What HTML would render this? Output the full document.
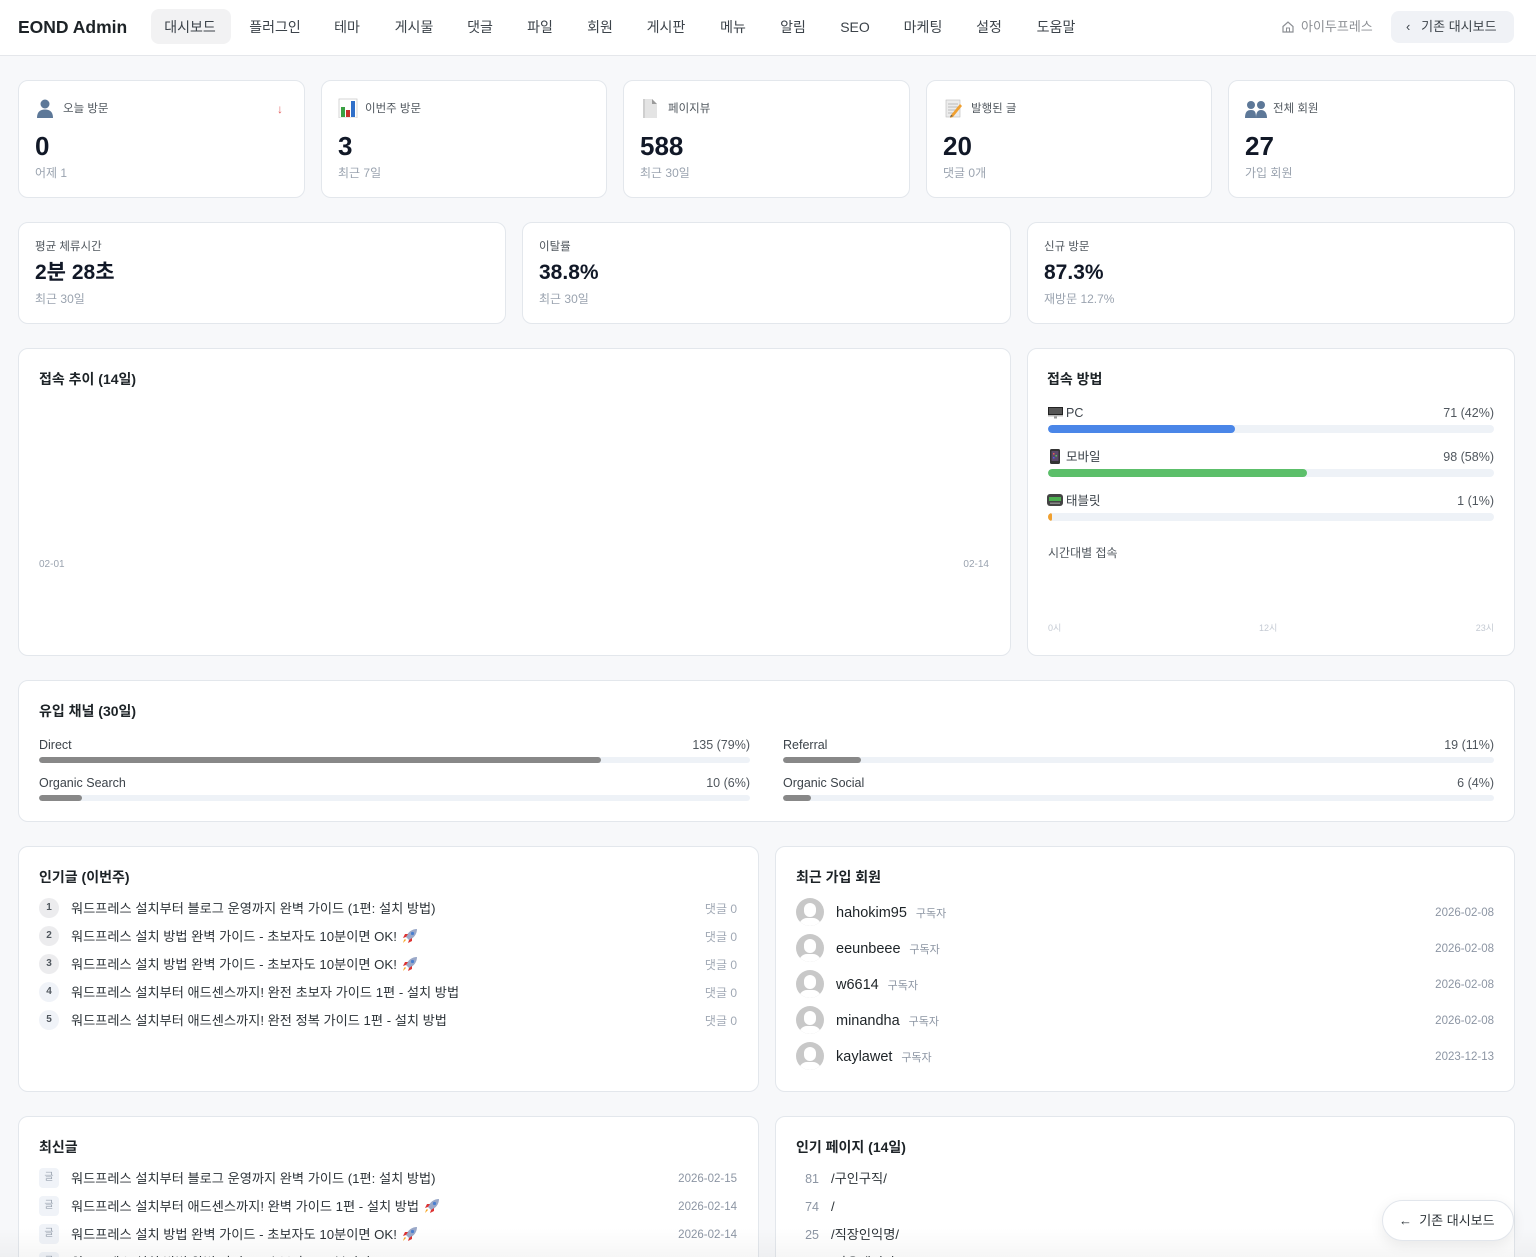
<!DOCTYPE html>
<html><head><meta charset="utf-8">
<style>
*{margin:0;padding:0;box-sizing:border-box}
html,body{width:1536px;height:1257px;overflow:hidden}
body{position:relative;background:#f7f8fa;font-family:"Liberation Sans","Noto Sans CJK KR",sans-serif;color:#1d2327}
.a{position:absolute;white-space:nowrap}
.card{position:absolute;background:#fff;border:1px solid #e3e7ec;border-radius:10px}
.hdr{position:absolute;left:0;top:0;width:1536px;height:56px;background:#fff;border-bottom:1px solid #e5e7eb}
.nav{position:absolute;top:17px;line-height:20px;font-size:14px;color:#3c434a;transform:translateX(-50%)}
.lbl{font-size:11.5px;color:#50575e;line-height:20px}
.sub{font-size:12px;color:#9aa3af;line-height:20px}
.v1{font-size:26px;font-weight:bold;color:#111827;line-height:30px}
.v2{font-size:21px;font-weight:bold;color:#111827;line-height:26px}
.ttl{font-size:14px;font-weight:bold;color:#1d2327;line-height:20px}
.trk{position:absolute;background:#eef2f7;border-radius:4px;overflow:hidden}
.fil{position:absolute;left:0;top:0;bottom:0;border-radius:4px}
.row{font-size:13.2px;color:#2c3338;line-height:20px}
.num{position:absolute;width:20px;height:20px;border-radius:10px;font-size:10px;font-weight:bold;text-align:center;line-height:20px;color:#50575e}
.mut{font-size:12px;color:#a0a8b4;line-height:20px}
.dt{font-size:11.5px;color:#8c95a3;line-height:20px}
.av{position:absolute;width:28px;height:28px;border-radius:14px;background:#c8c8c8;overflow:hidden}
.av:before{content:"";position:absolute;left:8px;top:5px;width:12px;height:14px;border-radius:6px;background:#fff}
.av:after{content:"";position:absolute;left:3px;top:20px;width:22px;height:16px;border-radius:11px;background:#fff}
.gl{position:absolute;width:20px;height:20px;border-radius:4px;background:#f0f3f8;font-size:10px;color:#9aa3af;text-align:center;line-height:20px}
.cv{font-size:12.5px;color:#50575e;line-height:20px}
.cl{font-size:12.5px;color:#3c434a;line-height:20px}
</style></head><body>

<!-- header -->
<div class="hdr"></div>
<div class="a" style="left:18px;top:15px;font-size:17.5px;font-weight:bold;line-height:24px;color:#1d2327">EOND Admin</div>
<div class="a" style="left:151px;top:9px;width:80px;height:35px;background:#f2f2f3;border-radius:8px"></div>
<span class="nav" style="left:190px">대시보드</span>
<span class="nav" style="left:275px">플러그인</span>
<span class="nav" style="left:347px">테마</span>
<span class="nav" style="left:414px">게시물</span>
<span class="nav" style="left:480px">댓글</span>
<span class="nav" style="left:540px">파일</span>
<span class="nav" style="left:600px">회원</span>
<span class="nav" style="left:666px">게시판</span>
<span class="nav" style="left:733px">메뉴</span>
<span class="nav" style="left:793px">알림</span>
<span class="nav" style="left:855px">SEO</span>
<span class="nav" style="left:923px">마케팅</span>
<span class="nav" style="left:989px">설정</span>
<span class="nav" style="left:1056px">도움말</span>
<svg class="a" style="left:1281px;top:20px" width="14" height="14" viewBox="0 0 14 14"><path d="M2 6.5L7 2l5 4.5V12H2z" fill="none" stroke="#8c8f94" stroke-width="1.2"/><rect x="5.5" y="8" width="3" height="4" fill="none" stroke="#8c8f94" stroke-width="1"/></svg>
<div class="a" style="left:1301px;top:17px;font-size:13px;color:#8c8f94;line-height:20px">아이두프레스</div>
<div class="a" style="left:1391px;top:11px;width:123px;height:32px;background:#f0f2f6;border-radius:8px"></div>
<div class="a" style="left:1406px;top:17px;font-size:13px;color:#3c434a;line-height:20px">‹&nbsp;&nbsp;&nbsp;기존 대시보드</div>

<!-- row 1 stat cards -->
<div class="card" style="left:18px;top:80px;width:287px;height:118px"></div>
<div class="card" style="left:321px;top:80px;width:286px;height:118px"></div>
<div class="card" style="left:623px;top:80px;width:287px;height:118px"></div>
<div class="card" style="left:926px;top:80px;width:286px;height:118px"></div>
<div class="card" style="left:1228px;top:80px;width:287px;height:118px"></div>

<!-- icons -->
<svg class="a" style="left:35px;top:98px" width="20" height="20" viewBox="0 0 20 20"><circle cx="10" cy="6" r="4.5" fill="#5d7898"/><path d="M2 20c0-6 3-8.5 8-8.5s8 2.5 8 8.5z" fill="#5d7898"/></svg>
<svg class="a" style="left:338px;top:98px" width="20" height="20" viewBox="0 0 20 20"><rect x="1" y="1" width="18" height="19" fill="#fff" stroke="#ccc" stroke-width=".8"/><rect x="3" y="9" width="4" height="10" fill="#3aa043"/><rect x="8" y="12" width="4" height="7" fill="#c9302c"/><rect x="13" y="3" width="4" height="16" fill="#2f6fc9"/></svg>
<svg class="a" style="left:641px;top:98px" width="18" height="20" viewBox="0 0 18 20"><path d="M2 1h9l5 5v14H2z" fill="#e4e4e4"/><path d="M11 1v5h5z" fill="#9a9a9a"/><path d="M2 1h2v19H2z" fill="#cfcfcf"/></svg>
<svg class="a" style="left:944px;top:98px" width="20" height="20" viewBox="0 0 20 20"><rect x="2" y="2" width="14" height="17" fill="#ececec" stroke="#bbb" stroke-width=".6"/><path d="M4 6h10M4 9h10M4 12h8M4 15h6" stroke="#aaa" stroke-width=".8"/><path d="M7 17l9-11 2 2-9 11-3 1z" fill="#f0a030"/><path d="M7 17l-1 2 3-1z" fill="#555"/></svg>
<svg class="a" style="left:1245px;top:98px" width="22" height="20" viewBox="0 0 22 20"><circle cx="6" cy="7" r="4" fill="#5d7898"/><circle cx="16" cy="7" r="4" fill="#5d7898"/><path d="M0 20c0-6 2-8 6-8s5 2 5 8z" fill="#5d7898"/><path d="M11 20c0-6 2-8 5-8s6 2 6 8z" fill="#5d7898"/></svg>

<div class="a lbl" style="left:63px;top:99px">오늘 방문</div>
<div class="a" style="left:277px;top:99px;font-size:12px;color:#e26060;line-height:20px">↓</div>
<div class="a v1" style="left:35px;top:131px">0</div>
<div class="a sub" style="left:35px;top:163px">어제 1</div>

<div class="a lbl" style="left:365px;top:99px">이번주 방문</div>
<div class="a v1" style="left:338px;top:131px">3</div>
<div class="a sub" style="left:338px;top:163px">최근 7일</div>

<div class="a lbl" style="left:668px;top:99px">페이지뷰</div>
<div class="a v1" style="left:640px;top:131px">588</div>
<div class="a sub" style="left:640px;top:163px">최근 30일</div>

<div class="a lbl" style="left:971px;top:99px">발행된 글</div>
<div class="a v1" style="left:943px;top:131px">20</div>
<div class="a sub" style="left:943px;top:163px">댓글 0개</div>

<div class="a lbl" style="left:1273px;top:99px">전체 회원</div>
<div class="a v1" style="left:1245px;top:131px">27</div>
<div class="a sub" style="left:1245px;top:163px">가입 회원</div>

<!-- row 2 -->
<div class="card" style="left:18px;top:222px;width:488px;height:102px"></div>
<div class="card" style="left:522px;top:222px;width:489px;height:102px"></div>
<div class="card" style="left:1027px;top:222px;width:488px;height:102px"></div>
<div class="a lbl" style="left:35px;top:237px">평균 체류시간</div>
<div class="a v2" style="left:35px;top:260px">2분 28초</div>
<div class="a sub" style="left:35px;top:289px">최근 30일</div>
<div class="a lbl" style="left:539px;top:237px">이탈률</div>
<div class="a v2" style="left:539px;top:260px">38.8%</div>
<div class="a sub" style="left:539px;top:289px">최근 30일</div>
<div class="a lbl" style="left:1044px;top:237px">신규 방문</div>
<div class="a v2" style="left:1044px;top:260px">87.3%</div>
<div class="a sub" style="left:1044px;top:289px">재방문 12.7%</div>

<!-- row 3 -->
<div class="card" style="left:18px;top:348px;width:993px;height:308px"></div>
<div class="a ttl" style="left:39px;top:369px">접속 추이 (14일)</div>
<div class="a" style="left:39px;top:558px;font-size:10px;color:#9aa3af;line-height:14px">02-01</div>
<div class="a" style="right:547px;top:558px;font-size:10px;color:#9aa3af;line-height:14px">02-14</div>

<div class="card" style="left:1027px;top:348px;width:488px;height:308px"></div>
<div class="a ttl" style="left:1047px;top:369px">접속 방법</div>
<svg class="a" style="left:1048px;top:406px" width="15" height="13" viewBox="0 0 15 13"><rect x="0" y="1" width="15" height="8" fill="#222"/><rect x="1" y="2" width="13" height="6" fill="#555"/><rect x="0" y="9" width="15" height="1.5" fill="#bbb"/><rect x="6" y="10.5" width="3" height="2" fill="#999"/></svg>
<div class="a cl" style="left:1066px;top:403px">PC</div>
<div class="a cv" style="right:42px;top:403px">71 (42%)</div>
<div class="trk" style="left:1048px;top:425px;width:446px;height:8px"><div class="fil" style="width:187px;background:#4a86e8"></div></div>

<svg class="a" style="left:1050px;top:449px" width="10" height="15" viewBox="0 0 10 15"><rect x="0" y="0" width="10" height="15" rx="1.5" fill="#333"/><rect x="1.5" y="2" width="7" height="10" fill="#5a4a6a"/><rect x="3" y="4" width="1.5" height="1.5" fill="#e55"/><rect x="5.5" y="6" width="1.5" height="1.5" fill="#5c5"/><rect x="3" y="8" width="1.5" height="1.5" fill="#55e"/></svg>
<div class="a cl" style="left:1066px;top:447px">모바일</div>
<div class="a cv" style="right:42px;top:447px">98 (58%)</div>
<div class="trk" style="left:1048px;top:469px;width:446px;height:8px"><div class="fil" style="width:259px;background:#5cbf6a"></div></div>

<svg class="a" style="left:1047px;top:494px" width="16" height="12" viewBox="0 0 16 12"><rect x="0" y="0" width="16" height="12" rx="3" fill="#444"/><rect x="2" y="3" width="12" height="4" fill="#4caf50"/><rect x="3" y="8.5" width="10" height="1.5" fill="#888"/></svg>
<div class="a cl" style="left:1066px;top:491px">태블릿</div>
<div class="a cv" style="right:42px;top:491px">1 (1%)</div>
<div class="trk" style="left:1048px;top:513px;width:446px;height:8px"><div class="fil" style="width:4px;background:#f0a030"></div></div>

<div class="a" style="left:1048px;top:543px;font-size:12px;color:#50575e;line-height:20px">시간대별 접속</div>
<div class="a" style="left:1048px;top:622px;font-size:9px;color:#c4cad3;line-height:12px">0시</div>
<div class="a" style="left:1259px;top:622px;font-size:9px;color:#c4cad3;line-height:12px">12시</div>
<div class="a" style="right:42px;top:622px;font-size:9px;color:#c4cad3;line-height:12px">23시</div>

<!-- row 4 channels -->
<div class="card" style="left:18px;top:680px;width:1497px;height:142px"></div>
<div class="a ttl" style="left:39px;top:701px">유입 채널 (30일)</div>
<div class="a cl" style="left:39px;top:735px">Direct</div>
<div class="a cv" style="right:786px;top:735px">135 (79%)</div>
<div class="trk" style="left:39px;top:757px;width:711px;height:6px;border-radius:3px"><div class="fil" style="width:562px;background:#888;border-radius:3px"></div></div>
<div class="a cl" style="left:39px;top:773px">Organic Search</div>
<div class="a cv" style="right:786px;top:773px">10 (6%)</div>
<div class="trk" style="left:39px;top:795px;width:711px;height:6px;border-radius:3px"><div class="fil" style="width:43px;background:#888;border-radius:3px"></div></div>

<div class="a cl" style="left:783px;top:735px">Referral</div>
<div class="a cv" style="right:42px;top:735px">19 (11%)</div>
<div class="trk" style="left:783px;top:757px;width:711px;height:6px;border-radius:3px"><div class="fil" style="width:78px;background:#888;border-radius:3px"></div></div>
<div class="a cl" style="left:783px;top:773px">Organic Social</div>
<div class="a cv" style="right:42px;top:773px">6 (4%)</div>
<div class="trk" style="left:783px;top:795px;width:711px;height:6px;border-radius:3px"><div class="fil" style="width:28px;background:#888;border-radius:3px"></div></div>

<!-- row 5 -->
<div class="card" style="left:18px;top:846px;width:741px;height:246px"></div>
<div class="a ttl" style="left:39px;top:867px">인기글 (이번주)</div>
<div class="num" style="left:39px;top:898px;background:#ececee">1</div>
<div class="a row" style="left:71px;top:899px">워드프레스 설치부터 블로그 운영까지 완벽 가이드 (1편: 설치 방법)</div>
<div class="a mut" style="right:799px;top:899px">댓글 0</div>
<div class="num" style="left:39px;top:926px;background:#ececee">2</div>
<div class="a row" style="left:71px;top:927px">워드프레스 설치 방법 완벽 가이드 - 초보자도 10분이면 OK! <svg width="18" height="18" viewBox="0 0 18 18" style="vertical-align:-4px"><path d="M16 2c-5 0-9 3-11 8l3 3c5-2 8-6 8-11z" fill="#9aa8c8"/><circle cx="11.5" cy="6.5" r="1.6" fill="#4a7fd0"/><path d="M5 10l-3 1 2-4 3 0z" fill="#d33"/><path d="M8 13l-1 3 4-2 0-3z" fill="#d33"/><path d="M5 13l-3 3 1-3 1-1z" fill="#f5a623"/></svg></div>
<div class="a mut" style="right:799px;top:927px">댓글 0</div>
<div class="num" style="left:39px;top:954px;background:#ececee">3</div>
<div class="a row" style="left:71px;top:955px">워드프레스 설치 방법 완벽 가이드 - 초보자도 10분이면 OK! <svg width="18" height="18" viewBox="0 0 18 18" style="vertical-align:-4px"><path d="M16 2c-5 0-9 3-11 8l3 3c5-2 8-6 8-11z" fill="#9aa8c8"/><circle cx="11.5" cy="6.5" r="1.6" fill="#4a7fd0"/><path d="M5 10l-3 1 2-4 3 0z" fill="#d33"/><path d="M8 13l-1 3 4-2 0-3z" fill="#d33"/><path d="M5 13l-3 3 1-3 1-1z" fill="#f5a623"/></svg></div>
<div class="a mut" style="right:799px;top:955px">댓글 0</div>
<div class="num" style="left:39px;top:982px;background:#f0f3f8">4</div>
<div class="a row" style="left:71px;top:983px">워드프레스 설치부터 애드센스까지! 완전 초보자 가이드 1편 - 설치 방법</div>
<div class="a mut" style="right:799px;top:983px">댓글 0</div>
<div class="num" style="left:39px;top:1010px;background:#f0f3f8">5</div>
<div class="a row" style="left:71px;top:1011px">워드프레스 설치부터 애드센스까지! 완전 정복 가이드 1편 - 설치 방법</div>
<div class="a mut" style="right:799px;top:1011px">댓글 0</div>

<div class="card" style="left:775px;top:846px;width:740px;height:246px"></div>
<div class="a ttl" style="left:796px;top:867px">최근 가입 회원</div>
<div class="av" style="left:796px;top:898px"></div>
<div class="a" style="left:836px;top:903px;line-height:20px"><span style="font-size:14.5px;color:#1d2327">hahokim95</span>&nbsp;&nbsp;<span style="font-size:11px;color:#8c95a3">구독자</span></div>
<div class="a dt" style="right:42px;top:903px">2026-02-08</div>
<div class="av" style="left:796px;top:934px"></div>
<div class="a" style="left:836px;top:939px;line-height:20px"><span style="font-size:14.5px;color:#1d2327">eeunbeee</span>&nbsp;&nbsp;<span style="font-size:11px;color:#8c95a3">구독자</span></div>
<div class="a dt" style="right:42px;top:939px">2026-02-08</div>
<div class="av" style="left:796px;top:970px"></div>
<div class="a" style="left:836px;top:975px;line-height:20px"><span style="font-size:14.5px;color:#1d2327">w6614</span>&nbsp;&nbsp;<span style="font-size:11px;color:#8c95a3">구독자</span></div>
<div class="a dt" style="right:42px;top:975px">2026-02-08</div>
<div class="av" style="left:796px;top:1006px"></div>
<div class="a" style="left:836px;top:1011px;line-height:20px"><span style="font-size:14.5px;color:#1d2327">minandha</span>&nbsp;&nbsp;<span style="font-size:11px;color:#8c95a3">구독자</span></div>
<div class="a dt" style="right:42px;top:1011px">2026-02-08</div>
<div class="av" style="left:796px;top:1042px"></div>
<div class="a" style="left:836px;top:1047px;line-height:20px"><span style="font-size:14.5px;color:#1d2327">kaylawet</span>&nbsp;&nbsp;<span style="font-size:11px;color:#8c95a3">구독자</span></div>
<div class="a dt" style="right:42px;top:1047px">2023-12-13</div>

<!-- row 6 -->
<div class="card" style="left:18px;top:1116px;width:741px;height:200px"></div>
<div class="a ttl" style="left:39px;top:1137px">최신글</div>
<div class="gl" style="left:39px;top:1168px">글</div>
<div class="a row" style="left:71px;top:1169px">워드프레스 설치부터 블로그 운영까지 완벽 가이드 (1편: 설치 방법)</div>
<div class="a dt" style="right:799px;top:1169px">2026-02-15</div>
<div class="gl" style="left:39px;top:1196px">글</div>
<div class="a row" style="left:71px;top:1197px">워드프레스 설치부터 애드센스까지! 완벽 가이드 1편 - 설치 방법 <svg width="18" height="18" viewBox="0 0 18 18" style="vertical-align:-4px"><path d="M16 2c-5 0-9 3-11 8l3 3c5-2 8-6 8-11z" fill="#9aa8c8"/><circle cx="11.5" cy="6.5" r="1.6" fill="#4a7fd0"/><path d="M5 10l-3 1 2-4 3 0z" fill="#d33"/><path d="M8 13l-1 3 4-2 0-3z" fill="#d33"/><path d="M5 13l-3 3 1-3 1-1z" fill="#f5a623"/></svg></div>
<div class="a dt" style="right:799px;top:1197px">2026-02-14</div>
<div class="gl" style="left:39px;top:1224px">글</div>
<div class="a row" style="left:71px;top:1225px">워드프레스 설치 방법 완벽 가이드 - 초보자도 10분이면 OK! <svg width="18" height="18" viewBox="0 0 18 18" style="vertical-align:-4px"><path d="M16 2c-5 0-9 3-11 8l3 3c5-2 8-6 8-11z" fill="#9aa8c8"/><circle cx="11.5" cy="6.5" r="1.6" fill="#4a7fd0"/><path d="M5 10l-3 1 2-4 3 0z" fill="#d33"/><path d="M8 13l-1 3 4-2 0-3z" fill="#d33"/><path d="M5 13l-3 3 1-3 1-1z" fill="#f5a623"/></svg></div>
<div class="a dt" style="right:799px;top:1225px">2026-02-14</div>
<div class="gl" style="left:39px;top:1252px">글</div>
<div class="a row" style="left:71px;top:1253px">워드프레스 설치 방법 완벽 가이드 - 초보자도 10분이면 OK!</div>

<div class="card" style="left:775px;top:1116px;width:740px;height:200px"></div>
<div class="a ttl" style="left:796px;top:1137px">인기 페이지 (14일)</div>
<div class="a" style="right:717px;top:1169px;font-size:12.5px;color:#8c95a3;line-height:20px">81</div>
<div class="a row" style="left:831px;top:1169px">/구인구직/</div>
<div class="a" style="right:717px;top:1197px;font-size:12.5px;color:#8c95a3;line-height:20px">74</div>
<div class="a row" style="left:831px;top:1197px">/</div>
<div class="a" style="right:717px;top:1225px;font-size:12.5px;color:#8c95a3;line-height:20px">25</div>
<div class="a row" style="left:831px;top:1225px">/직장인익명/</div>
<div class="a" style="right:717px;top:1253px;font-size:12.5px;color:#8c95a3;line-height:20px">19</div>
<div class="a row" style="left:831px;top:1253px">/자유게시판/</div>

<!-- bottom fade -->
<div class="a" style="left:0;top:1228px;width:1536px;height:29px;background:linear-gradient(rgba(0,0,0,0),rgba(0,0,0,0.035))"></div>

<!-- floating button -->
<div class="a" style="left:1382px;top:1200px;width:132px;height:41px;border-radius:21px;background:#fff;border:1px solid #e2e6ec;box-shadow:0 4px 14px rgba(0,0,0,0.08)"></div>
<div class="a" style="left:1399px;top:1211px;font-size:13px;color:#2c3338;line-height:20px">←&nbsp;&nbsp;기존 대시보드</div>

</body></html>
